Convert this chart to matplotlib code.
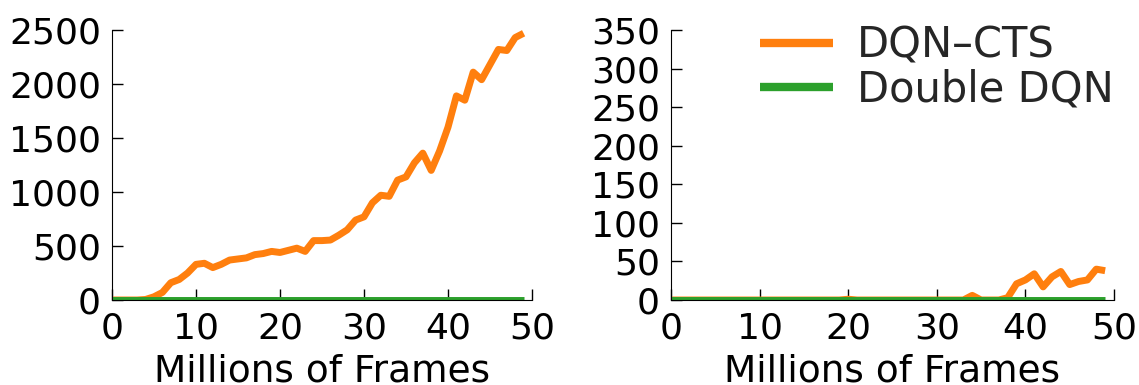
import matplotlib
matplotlib.use("Agg")
import matplotlib.pyplot as plt
import numpy as np

frames = list(range(50))

left_dqn_cts = [0, 0, 0, 0, 5, 30, 70, 160, 190, 250,
                330, 340, 300, 330, 370, 380, 390, 420, 430, 450,
                440, 460, 480, 450, 550, 550, 555, 600, 650, 740,
                770, 900, 970, 960, 1110, 1140, 1270, 1360, 1200, 1380,
                1600, 1890, 1850, 2110, 2040, 2180, 2320, 2310, 2430, 2470]
left_double_dqn = [0] * 50

right_dqn_cts = [0, 0, 0, 0, 0, 0, 0, 0, 0, 0,
                 0, 0, 0, 0, 0, 0, 0, 0, 0, 0,
                 1, 0, 0, 0, 0, 0, 0, 0, 0, 0,
                 0, 0, 0, 0, 6, 0, 0, 0, 3, 21,
                 26, 34, 17, 30, 37, 20, 24, 26, 40, 38]
right_double_dqn = [0] * 50

left_yticks = [0, 500, 1000, 1500, 2000, 2500]
right_yticks = [0, 50, 100, 150, 200, 250, 300, 350]
xticks = [0, 10, 20, 30, 40, 50]

ORANGE = "#ff7f0e"
GREEN = "#2ca02c"

fig = plt.figure(figsize=(11.39, 3.85), dpi=100)
axL = fig.add_axes([112 / 1139, 85 / 385, 420 / 1139, 270 / 385])
axR = fig.add_axes([671 / 1139, 85 / 385, 443 / 1139, 270 / 385])

for ax, cts, ddqn, yt in [(axL, left_dqn_cts, left_double_dqn, left_yticks),
                          (axR, right_dqn_cts, right_double_dqn, right_yticks)]:
    ax.plot(frames, cts, color=ORANGE, lw=5, label="DQN–CTS", solid_capstyle="butt")
    ax.plot(frames, ddqn, color=GREEN, lw=5, label="Double DQN", solid_capstyle="butt")
    ax.set_xlim(0, 50)
    ax.set_ylim(yt[0], yt[-1])
    ax.set_xticks(xticks)
    ax.set_yticks(yt)
    ax.spines["top"].set_visible(False)
    ax.spines["right"].set_visible(False)
    ax.tick_params(direction="in", length=8, width=1, labelsize=26, pad=8,
                   top=False, right=False, colors="black")
    ax.set_xlabel("Millions of Frames", fontsize=27, labelpad=6)

leg = axR.legend(loc="upper right", bbox_to_anchor=(1.0, 1.02), frameon=False,
                 fontsize=30, handlelength=1.75, handletextpad=0.58,
                 labelspacing=0.05, borderpad=0, borderaxespad=0)
for t in leg.get_texts():
    t.set_color("#262626")
for l in leg.get_lines():
    l.set_linewidth(6)

fig.savefig("out.png", dpi=100)
